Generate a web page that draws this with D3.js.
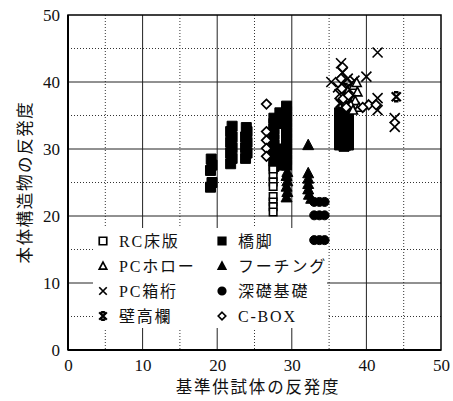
<!DOCTYPE html>
<html>
<head>
<meta charset="utf-8">
<script src="https://cdn.jsdelivr.net/npm/d3@7"></script>
<style>
    body { margin: 0; background: #fff; }
    .tick-label { font-family: "Liberation Serif", "DejaVu Serif", serif; font-size: 17px; fill: #111; }
    .jp { font-family: "Liberation Serif", "Noto Sans CJK JP", serif; fill: #111; }
</style>
</head>
<body>
<div id="chart"></div>
<script>

// ---- data ----
let xTicks = [0, 10, 20, 30, 40, 50];
let yTicks = [0, 10, 20, 30, 40, 50];
let minorTicks = [5, 15, 25, 35, 45];

// RC床版 (open square)
let rcSlabX = [27.5, 27.5, 27.5, 27.5, 27.5, 27.5, 27.5, 27.5];
let rcSlabY = [26.9, 25.9, 25.1, 24.4, 22.9, 22.1, 21.4, 20.6];

// 橋脚 (filled square)
let pierX = [19.1, 19.3, 19.1, 19.3, 19.2,
    21.8, 22.0, 21.8, 22.0, 21.8, 22.0, 21.8, 22.0,
    23.8, 24.0, 23.8, 24.0, 23.8, 24.0, 23.9,
    27.6, 27.6, 27.6, 27.6, 27.6, 27.6, 27.6, 27.6, 27.6, 27.6,
    28.4, 28.4, 28.4, 28.4, 28.4, 28.4, 28.4,
    29.3, 29.3, 29.3, 29.3, 29.3, 29.3, 29.3, 29.3, 29.3, 29.3, 29.3, 29.3,
    36.4, 36.4, 36.4, 36.4, 36.4, 36.4, 36.4,
    37.0, 37.0, 37.0, 37.0, 37.0, 37.0, 37.0,
    37.6, 37.6, 37.6, 37.6, 37.6, 37.6, 37.6];
let pierY = [24.3, 25.0, 26.8, 27.6, 28.5,
    27.8, 28.6, 29.4, 30.2, 31.0, 31.8, 32.6, 33.4,
    28.6, 29.4, 30.2, 31.0, 31.8, 32.6, 33.2,
    27.4, 28.2, 29.0, 29.8, 30.6, 31.4, 32.2, 33.0, 33.8, 34.6,
    27.6, 28.4, 29.2, 30.0, 33.8, 34.6, 35.4,
    27.6, 28.4, 29.2, 30.0, 30.8, 31.6, 32.4, 33.2, 34.0, 34.8, 35.6, 36.4,
    30.6, 31.4, 32.2, 33.0, 33.8, 34.6, 35.4,
    30.4, 31.2, 32.0, 32.8, 33.6, 34.4, 35.2,
    30.6, 31.4, 32.2, 33.0, 33.8, 34.6, 35.4];

// PCホロー (open triangle)
let pcHollowX = [38.3, 38.8, 38.5, 39.0, 37.5, 37.9, 37.2, 38.2, 38.7];
let pcHollowY = [39.5, 38.5, 37.2, 36.2, 38.6, 36.6, 37.6, 35.8, 39.9];

// フーチング (filled triangle)
let footingX = [29.3, 29.4, 29.3, 29.4, 29.3, 29.4,
    32.2, 32.2, 32.2, 32.2, 32.2, 32.3, 32.6];
let footingY = [22.8, 23.6, 24.4, 25.2, 26.0, 26.6,
    30.6, 26.4, 25.6, 24.8, 24.0, 23.2, 22.6];

// PC箱桁 (cross)
let pcBoxX = [35.3, 36.6, 36.8, 37.5, 38.0, 40.0, 41.5, 41.5, 41.5, 43.8, 43.8, 36.4, 37.0, 38.4, 36.2, 37.8];
let pcBoxY = [40.0, 42.8, 41.4, 40.5, 39.8, 40.8, 44.4, 37.6, 35.8, 34.6, 33.3, 38.2, 36.4, 40.2, 39.2, 38.8];

// 深礎基礎 (filled circle)
let caissonX = [33.0, 33.7, 34.4, 33.0, 33.7, 34.4, 33.0, 33.7, 34.4];
let caissonY = [22.1, 22.1, 22.1, 20.1, 20.1, 20.1, 16.4, 16.4, 16.4];

// 壁高欄 (asterisk)
let parapetX = [44.0, 37.2, 37.8, 36.9, 37.2, 37.0, 37.6, 36.5];
let parapetY = [37.8, 39.0, 37.4, 35.6, 33.2, 31.0, 30.6, 36.8];

// C-BOX (open diamond)
let cBoxX = [26.6, 26.6, 26.6, 26.6, 26.6, 36.8, 36.6, 36.7, 36.9, 37.3, 40.3, 41.3, 39.5, 37.6];
let cBoxY = [36.7, 32.6, 31.3, 30.1, 28.9, 42.2, 40.5, 39.0, 37.5, 36.2, 36.6, 36.6, 36.2, 38.0];

let seriesNames = ["RC床版", "橋脚", "PCホロー", "フーチング", "PC箱桁", "深礎基礎", "壁高欄", "C-BOX"];

// ---- layout ----
let margin = {top: 15, right: 12, bottom: 51, left: 68};
let width = 453 - margin.left - margin.right;
let height = 401 - margin.top - margin.bottom;

let svg = d3.select("#chart").append("svg")
    .attr("width", 453)
    .attr("height", 401);

let g = svg.append("g")
    .attr("transform", `translate(${margin.left}, ${margin.top})`);

let x = d3.scaleLinear().domain([0, 50]).range([0, width]);
let y = d3.scaleLinear().domain([0, 50]).range([height, 0]);

// grid, dotted minor
g.selectAll(".vminor").data(minorTicks).enter().append("line")
    .attr("x1", d => x(d)).attr("x2", d => x(d))
    .attr("y1", 0).attr("y2", height)
    .attr("stroke", "#333").attr("stroke-width", 1).attr("stroke-dasharray", "1,2");
g.selectAll(".hminor").data(minorTicks).enter().append("line")
    .attr("y1", d => y(d)).attr("y2", d => y(d))
    .attr("x1", 0).attr("x2", width)
    .attr("stroke", "#333").attr("stroke-width", 1).attr("stroke-dasharray", "1,2");

// grid, solid major
g.selectAll(".vmajor").data(xTicks.slice(1, -1)).enter().append("line")
    .attr("x1", d => x(d)).attr("x2", d => x(d))
    .attr("y1", 0).attr("y2", height)
    .attr("stroke", "#222").attr("stroke-width", 1);
g.selectAll(".hmajor").data(yTicks.slice(1, -1)).enter().append("line")
    .attr("y1", d => y(d)).attr("y2", d => y(d))
    .attr("x1", 0).attr("x2", width)
    .attr("stroke", "#222").attr("stroke-width", 1);

// legend background hides grid
g.append("rect")
    .attr("x", 25).attr("y", 213)
    .attr("width", 234).attr("height", 100)
    .attr("fill", "#fff");

// frame
g.append("rect")
    .attr("width", width).attr("height", height)
    .attr("fill", "none").attr("stroke", "#000").attr("stroke-width", 1.5);
g.append("line").attr("x1", 0).attr("x2", 0).attr("y1", 0).attr("y2", height)
    .attr("stroke", "#000").attr("stroke-width", 2);
g.append("line").attr("x1", 0).attr("x2", width).attr("y1", height).attr("y2", height)
    .attr("stroke", "#000").attr("stroke-width", 2.2);

// axes labels
let xAxis = d3.axisBottom(x).tickValues(xTicks).tickSize(0).tickPadding(9);
let yAxis = d3.axisLeft(y).tickValues(yTicks).tickSize(0).tickPadding(8);

let xg = g.append("g").attr("transform", `translate(0, ${height})`).call(xAxis);
let yg = g.append("g").call(yAxis);
[xg, yg].forEach(a => {
    a.select(".domain").remove();
    a.selectAll("text").attr("class", "tick-label").attr("fill", "#111").style("font-size", "17px");
});

svg.append("text")
    .attr("class", "jp")
    .attr("x", 258).attr("y", 393)
    .attr("text-anchor", "middle")
    .style("font-size", "16.5px")
    .style("letter-spacing", "1.8px")
    .text("基準供試体の反発度");

svg.append("text")
    .attr("class", "jp")
    .attr("transform", "translate(31, 182) rotate(-90)")
    .attr("text-anchor", "middle")
    .style("font-size", "16.5px")
    .style("letter-spacing", "1.6px")
    .text("本体構造物の反発度");

// ---- markers ----
function markerPath(type, s) {
    let h = s / 2;
    let p = d3.path();
    if (type === "square") {
        p.rect(-h, -h, s, s);
    } else if (type === "triangle") {
        p.moveTo(0, -h * 1.05); p.lineTo(h, h * 0.85); p.lineTo(-h, h * 0.85); p.closePath();
    } else if (type === "circle") {
        p.arc(0, 0, h, 0, 2 * Math.PI);
    } else if (type === "diamond") {
        p.moveTo(0, -h); p.lineTo(h, 0); p.lineTo(0, h); p.lineTo(-h, 0); p.closePath();
    } else if (type === "cross") {
        p.moveTo(-h, -h); p.lineTo(h, h); p.moveTo(h, -h); p.lineTo(-h, h);
    } else if (type === "asterisk") {
        p.moveTo(-h, -h); p.lineTo(h, h); p.moveTo(h, -h); p.lineTo(-h, h);
        p.moveTo(-h * 0.5, -h); p.lineTo(h * 0.5, -h);
        p.moveTo(-h * 0.5, h); p.lineTo(h * 0.5, h);
    }
    return p.toString();
}

let styles = {
    square: {fill: "#fff", stroke: "#000", sw: 1.6},
    fsquare: {fill: "#000", stroke: "#000", sw: 1},
    triangle: {fill: "#fff", stroke: "#000", sw: 1.6},
    ftriangle: {fill: "#000", stroke: "#000", sw: 1},
    cross: {fill: "none", stroke: "#000", sw: 1.6},
    circle: {fill: "#000", stroke: "#000", sw: 1},
    asterisk: {fill: "none", stroke: "#000", sw: 2.4},
    diamond: {fill: "#fff", stroke: "#000", sw: 1.7}
};
let shapeOf = {square: "square", fsquare: "square", triangle: "triangle", ftriangle: "triangle",
    cross: "cross", circle: "circle", asterisk: "asterisk", diamond: "diamond"};

function drawSeries(xs, ys, key, size) {
    let pts = xs.map((v, i) => ({x: v, y: ys[i]}));
    let st = styles[key];
    g.append("g").selectAll("path").data(pts).enter().append("path")
        .attr("d", markerPath(shapeOf[key], size))
        .attr("transform", d => `translate(${x(d.x)}, ${y(d.y)})`)
        .attr("fill", st.fill).attr("stroke", st.stroke).attr("stroke-width", st.sw);
}

drawSeries(pierX, pierY, "fsquare", 10);
drawSeries(footingX, footingY, "ftriangle", 11);
drawSeries(caissonX, caissonY, "circle", 9);
drawSeries(pcBoxX, pcBoxY, "cross", 10);
drawSeries(parapetX, parapetY, "asterisk", 9);
drawSeries(rcSlabX, rcSlabY, "square", 7.5);
drawSeries(pcHollowX, pcHollowY, "triangle", 9);
drawSeries(cBoxX, cBoxY, "diamond", 9.5);

// ---- legend ----
let legendKeys = ["square", "fsquare", "triangle", "ftriangle", "cross", "circle", "asterisk", "diamond"];
let legend = svg.append("g");
legendKeys.forEach((k, i) => {
    let col = i % 2, row = Math.floor(i / 2);
    let lx = col === 0 ? 103 : 222;
    let ly = 241 + row * 25;
    let st = styles[k];
    legend.append("path")
        .attr("d", markerPath(shapeOf[k], 7.5))
        .attr("transform", `translate(${lx}, ${ly})`)
        .attr("fill", st.fill).attr("stroke", st.stroke)
        .attr("stroke-width", k === "asterisk" ? 2.4 : 1.7);
    legend.append("text")
        .attr("class", "jp")
        .attr("x", lx + 16).attr("y", ly)
        .attr("dy", "0.36em")
        .style("font-size", "16px")
        .style("letter-spacing", "1.8px")
        .text(seriesNames[i]);
});

</script>
</body>
</html>
